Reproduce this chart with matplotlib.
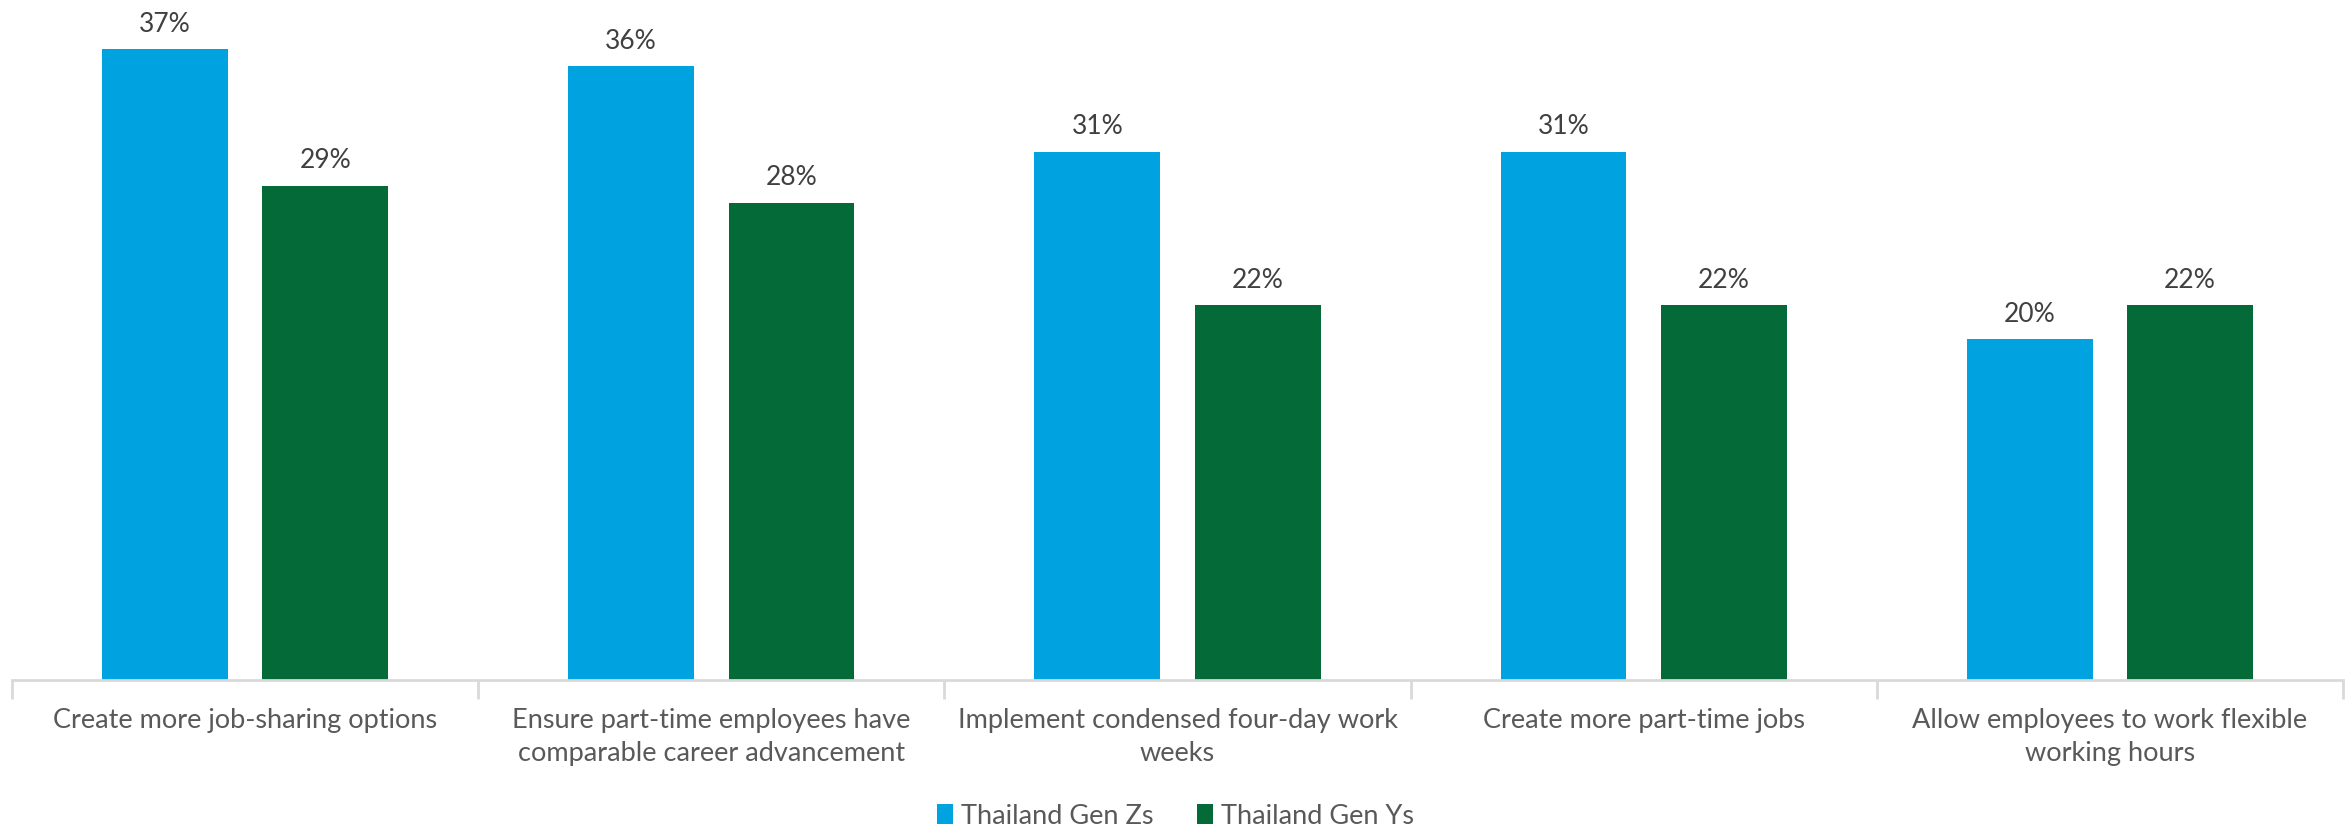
import matplotlib
matplotlib.use("Agg")
import matplotlib.pyplot as plt
import numpy as np

categories = [
    "Create more job-sharing options",
    "Ensure part-time employees have\ncomparable career advancement",
    "Implement condensed four-day work\nweeks",
    "Create more part-time jobs",
    "Allow employees to work flexible\nworking hours",
]
series_names = ["Thailand Gen Zs", "Thailand Gen Ys"]
gen_z = [37, 36, 31, 31, 20]
gen_y = [29, 28, 22, 22, 22]
colors = ["#00A3E0", "#046A38"]

plt.rcParams["font.family"] = ["Lato", "DejaVu Sans"]

W, H = 2351, 825
fig = plt.figure(figsize=(W / 100, H / 100), dpi=100)
ax = fig.add_axes([12 / W, (H - 680) / H, (2343 - 12) / W, 680 / H])

x = np.arange(len(categories))
bw = 0.27
off = 0.172
for vals, c, name, sgn in [(gen_z, colors[0], series_names[0], -1),
                           (gen_y, colors[1], series_names[1], 1)]:
    bars = ax.bar(x + sgn * off, vals, width=bw, color=c, label=name, zorder=2)
    for b, v in zip(bars, vals):
        ax.annotate(f"{v}%", (b.get_x() + b.get_width() / 2, v),
                    xytext=(0, 9), textcoords="offset points",
                    ha="center", va="bottom", fontsize=19, color="#404040")

ax.set_xlim(-0.5, len(categories) - 0.5)
ax.set_ylim(0, 39.9)
for s in ["top", "right", "left"]:
    ax.spines[s].set_visible(False)
ax.spines["bottom"].set_color("#D9D9D9")
ax.spines["bottom"].set_linewidth(2)
ax.set_yticks([])
ax.set_xticks(np.arange(-0.5, len(categories), 1.0))
ax.set_xticklabels([])
ax.tick_params(axis="x", length=14, width=2, color="#D9D9D9")
ax.set_xticks(x, minor=True)
ax.set_xticklabels(categories, minor=True, fontsize=19.5, color="#595959",
                   linespacing=1.4)
ax.tick_params(axis="x", which="minor", length=0, pad=20)

fig.legend(loc="center", bbox_to_anchor=(0.5, 1 - 816 / H), ncol=2,
           frameon=False, fontsize=19.5, labelcolor="#595959",
           handlelength=0.6, handleheight=0.8, handletextpad=0.3,
           columnspacing=1.6)

fig.savefig("out.png", dpi=100)
